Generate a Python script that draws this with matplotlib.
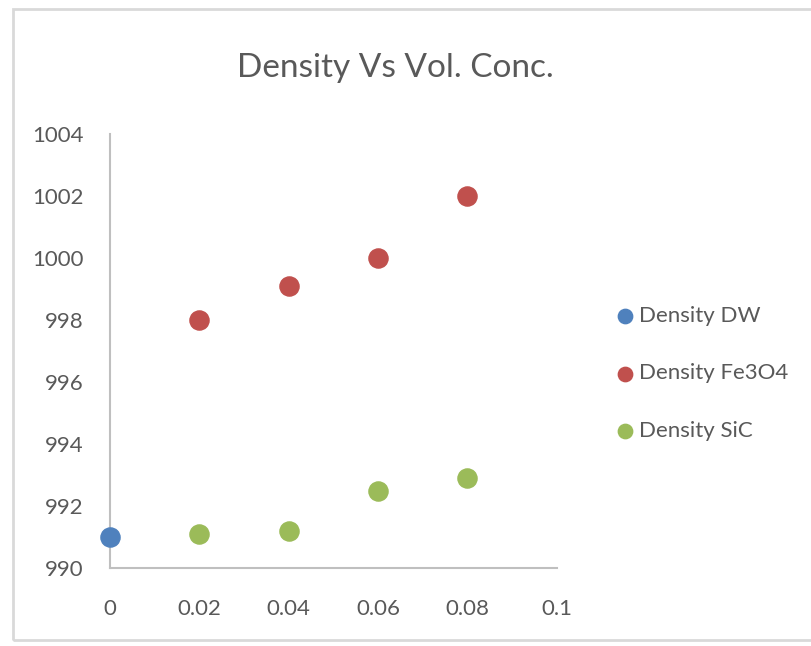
import matplotlib.pyplot as plt
from matplotlib.patches import Rectangle

plt.rcParams["font.family"] = ["Lato", "DejaVu Sans"]

# volume concentration and measured density (kg/m3)
conc_dw = [0.0]
dens_dw = [991.0]

conc_fe = [0.02, 0.04, 0.06, 0.08]
dens_fe = [998.0, 999.1, 1000.0, 1002.0]

conc_sic = [0.02, 0.04, 0.06, 0.08]
dens_sic = [991.1, 991.2, 992.5, 992.9]

x_ticks = [0, 0.02, 0.04, 0.06, 0.08, 0.1]
x_labels = ["0", "0.02", "0.04", "0.06", "0.08", "0.1"]
y_ticks = [990, 992, 994, 996, 998, 1000, 1002, 1004]

fig = plt.figure(figsize=(8.11, 6.46), dpi=100)
ax = fig.add_axes([0.1356, 0.1207, 0.551, 0.672])

ms = 190
ax.scatter(conc_dw, dens_dw, s=ms, color="#4F81BD", label="Density DW", clip_on=False, zorder=3)
ax.scatter(conc_fe, dens_fe, s=ms, color="#C0504D", label="Density Fe3O4", clip_on=False, zorder=3)
ax.scatter(conc_sic, dens_sic, s=ms, color="#9BBB59", label="Density SiC", clip_on=False, zorder=3)

ax.set_xlim(0, 0.1)
ax.set_ylim(990, 1004)
ax.set_xticks(x_ticks)
ax.set_xticklabels(x_labels)
ax.set_yticks(y_ticks)
ax.tick_params(length=0, labelsize=16, labelcolor="#595959")
ax.tick_params(axis="x", pad=22)
ax.tick_params(axis="y", pad=19)

for side in ["top", "right"]:
    ax.spines[side].set_visible(False)
for side in ["left", "bottom"]:
    ax.spines[side].set_color("#BFBFBF")
    ax.spines[side].set_linewidth(1.5)

fig.text(0.487, 0.895, "Density Vs Vol. Conc.", ha="center", va="center",
         fontsize=24, color="#595959")

fig.legend(loc="center left", bbox_to_anchor=(0.736, 0.422), frameon=False,
           fontsize=16, labelcolor="#595959", handlelength=0.7, handletextpad=0.3,
           labelspacing=1.7, markerscale=0.75)

# light chart-area border
fig.patches.append(Rectangle((0.016, 0.009), 1.2, 0.977, transform=fig.transFigure,
                             fill=False, edgecolor="#D9D9D9", linewidth=2))

fig.savefig("out.png", dpi=100)
